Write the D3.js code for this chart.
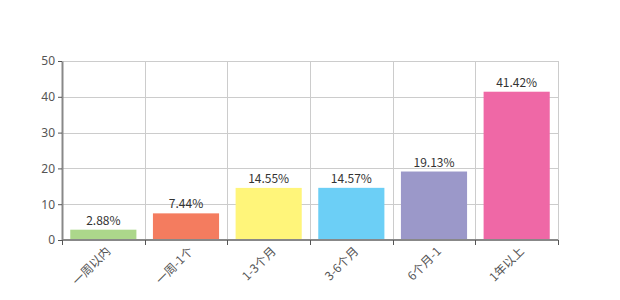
<!DOCTYPE html>
<html lang="en">
<head>
<meta charset="UTF-8">
<title>Chart</title>
<script src="https://cdn.jsdelivr.net/npm/d3@7"></script>
<style>
  body { margin: 0; background: #fff; }
  text { font-family: "Noto Sans CJK SC", "Noto Sans", sans-serif; }
</style>
</head>
<body>
<div id="chart"></div>
<script>
// Data
var categories = ["一周以内", "一周-1个", "1-3个月", "3-6个月", "6个月-1", "1年以上"];
var values = [2.88, 7.44, 14.55, 14.57, 19.13, 41.42];
var colors = ["#acd78b", "#f47c5f", "#fff57a", "#6ccff6", "#9b98c9", "#ef68a6"];
var yTicks = [0, 10, 20, 30, 40, 50];

var w = 620, h = 300;
var margin = {top: 61, right: 62, bottom: 60, left: 62};

var svg = d3.select("#chart").append("svg")
  .attr("width", w)
  .attr("height", h);

var xScale = d3.scaleBand()
  .domain(categories)
  .range([margin.left, w - margin.right])
  .paddingInner(0.2)
  .paddingOuter(0.1);

var yScale = d3.scaleLinear()
  .domain([0, 50])
  .range([h - margin.bottom, margin.top]);

// horizontal grid
svg.selectAll(".hgrid")
  .data(yTicks)
  .enter()
  .append("line")
  .attr("x1", margin.left)
  .attr("x2", w - margin.right)
  .attr("y1", function(d) { return Math.round(yScale(d)) + 0.5; })
  .attr("y2", function(d) { return Math.round(yScale(d)) + 0.5; })
  .attr("stroke", "#cccccc");

// vertical grid at band boundaries
var step = xScale.step();
var bounds = categories.map(function(d, i) { return margin.left + i * (w - margin.left - margin.right) / categories.length; });
bounds.push(w - margin.right);
svg.selectAll(".vgrid")
  .data(bounds)
  .enter()
  .append("line")
  .attr("x1", function(d) { return Math.round(d) + 0.5; })
  .attr("x2", function(d) { return Math.round(d) + 0.5; })
  .attr("y1", margin.top)
  .attr("y2", h - margin.bottom)
  .attr("stroke", "#cccccc");

// bars
svg.selectAll("rect.bar")
  .data(values)
  .enter()
  .append("rect")
  .attr("class", "bar")
  .attr("x", function(d, i) { return xScale(categories[i]); })
  .attr("width", xScale.bandwidth())
  .attr("y", function(d) { return yScale(d); })
  .attr("height", function(d) { return yScale(0) - yScale(d); })
  .attr("fill", function(d, i) { return colors[i]; });

// value labels
svg.selectAll(".val")
  .data(values)
  .enter()
  .append("text")
  .attr("x", function(d, i) { return xScale(categories[i]) + xScale.bandwidth() / 2; })
  .attr("y", function(d) { return yScale(d) - 5; })
  .attr("text-anchor", "middle")
  .attr("font-size", "12px")
  .attr("fill", "#333")
  .text(function(d) { return d.toFixed(2) + "%"; });

// y axis
var yAxis = svg.append("g")
  .attr("transform", "translate(" + margin.left + ",0)")
  .call(d3.axisLeft(yScale).tickValues(yTicks).tickSize(4).tickSizeOuter(0));
yAxis.select(".domain").attr("stroke", "#888").attr("stroke-width", 2);
yAxis.selectAll(".tick line").attr("stroke", "#555");
yAxis.selectAll(".tick text").attr("font-size", "12px").attr("fill", "#555")
  .style("font-family", "'Noto Sans', sans-serif");

// x axis
var xAxis = svg.append("g")
  .attr("transform", "translate(0," + yScale(0) + ")");
xAxis.append("line")
  .attr("x1", margin.left)
  .attr("x2", w - margin.right)
  .attr("stroke", "#888")
  .attr("stroke-width", 2);
xAxis.selectAll(".xtick")
  .data(bounds)
  .enter()
  .append("line")
  .attr("x1", function(d) { return Math.round(d) + 0.5; })
  .attr("x2", function(d) { return Math.round(d) + 0.5; })
  .attr("y1", 0)
  .attr("y2", 5)
  .attr("stroke", "#555");
xAxis.selectAll(".xlabel")
  .data(categories)
  .enter()
  .append("text")
  .attr("text-anchor", "end")
  .attr("font-size", "12px")
  .attr("fill", "#555")
  .attr("transform", function(d) {
    var x = xScale(d) + xScale.bandwidth() / 2 + 8;
    return "translate(" + x + ",12) rotate(-45)";
  })
  .text(function(d) { return d; });
</script>
</body>
</html>
